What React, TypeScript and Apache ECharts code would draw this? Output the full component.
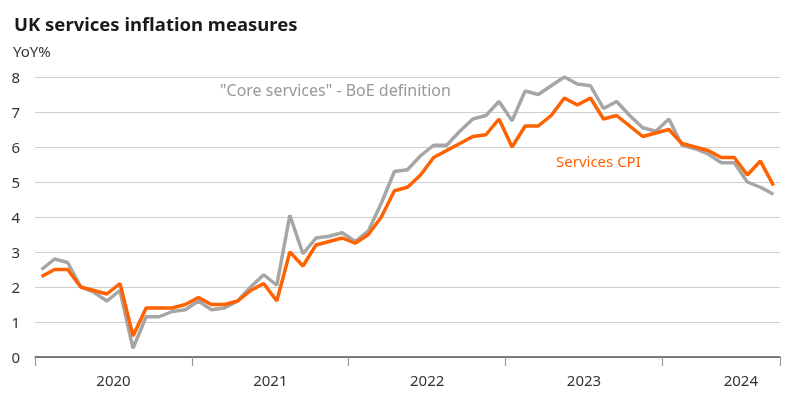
import React, { useEffect, useRef } from "react";
import * as echarts from "echarts";

const years = ["2020", "2021", "2022", "2023", "2024"];
const monthsInLastYear = 9;

const servicesCPI = [
  2.3, 2.5, 2.5, 2.0, 1.9, 1.8, 2.1, 0.6, 1.4, 1.4, 1.4, 1.5,
  1.7, 1.5, 1.5, 1.6, 1.9, 2.1, 1.6, 3.0, 2.6, 3.2, 3.3, 3.4,
  3.25, 3.5, 4.0, 4.75, 4.85, 5.2, 5.7, 5.9, 6.1, 6.3, 6.35, 6.8,
  6.0, 6.6, 6.6, 6.9, 7.4, 7.2, 7.4, 6.8, 6.9, 6.6, 6.3, 6.4,
  6.5, 6.1, 6.0, 5.9, 5.7, 5.7, 5.2, 5.6, 4.9,
];

const coreServices = [
  2.5, 2.8, 2.7, 2.0, 1.85, 1.6, 1.9, 0.25, 1.15, 1.15, 1.3, 1.35,
  1.6, 1.35, 1.4, 1.6, 2.0, 2.35, 2.05, 4.05, 2.95, 3.4, 3.45, 3.55,
  3.3, 3.6, 4.4, 5.3, 5.35, 5.75, 6.05, 6.05, 6.45, 6.8, 6.9, 7.3,
  6.75, 7.6, 7.5, 7.75, 8.0, 7.8, 7.75, 7.1, 7.3, 6.9, 6.55, 6.45,
  6.8, 6.05, 5.95, 5.8, 5.55, 5.55, 5.0, 4.85, 4.65,
];

const categories: string[] = [];
years.forEach((y, yi) => {
  const n = yi === years.length - 1 ? monthsInLastYear : 12;
  for (let m = 1; m <= n; m++) categories.push(`${y}-${String(m).padStart(2, "0")}`);
});

const ORANGE = "#FF6200";
const GREY = "#A6A6A6";
const FONT = "Noto Sans";

export default function App() {
  const ref = useRef<HTMLDivElement>(null);
  useEffect(() => {
    if (!ref.current) return;
    const chart = echarts.init(ref.current, undefined, { renderer: "svg" });
    chart.setOption({
      animation: false,
      textStyle: { fontFamily: FONT },
      title: {
        text: "UK services inflation measures",
        left: 9,
        top: 9,
        textStyle: { fontFamily: FONT, fontSize: 18.5, fontWeight: "bold", color: "#1a1a1a" },
      },
      graphic: [
        {
          type: "text",
          left: 13,
          top: 43,
          style: { text: "YoY%", fontFamily: FONT, fontSize: 15, fill: "#333" },
        },
        {
          type: "text",
          left: 220,
          top: 82,
          style: { text: '"Core services" - BoE definition', fontFamily: FONT, fontSize: 16, fill: "#999999" },
        },
        {
          type: "text",
          left: 556,
          top: 153,
          style: { text: "Services CPI", fontFamily: FONT, fontSize: 15, fill: ORANGE },
        },
      ],
      grid: { left: 35, right: 20, top: 77, bottom: 55, containLabel: false },
      xAxis: {
        type: "category",
        data: categories,
        boundaryGap: true,
        axisLine: { lineStyle: { color: "#555", width: 1.5 } },
        axisTick: {
          show: true,
          alignWithLabel: false,
          interval: (i: number) => i % 12 === 0,
          length: 9,
          lineStyle: { color: "#999", width: 1.2 },
        },
        axisLabel: {
          interval: (i: number) => i % 12 === 6,
          formatter: (v: string) => v.slice(0, 4),
          fontFamily: FONT,
          fontSize: 15,
          color: "#333",
          margin: 15,
          padding: [0, 13, 0, 0],
        },
        splitLine: { show: false },
      },
      yAxis: {
        type: "value",
        min: 0,
        max: 8,
        interval: 1,
        axisLine: { show: false },
        axisTick: { show: false },
        axisLabel: { fontFamily: FONT, fontSize: 15, color: "#333", margin: 15 },
        splitLine: { lineStyle: { color: "#cfcfcf", width: 1.2 } },
      },
      series: [
        {
          name: '"Core services" - BoE definition',
          type: "line",
          data: coreServices,
          symbol: "none",
          lineStyle: { color: GREY, width: 3.5 },
          z: 2,
        },
        {
          name: "Services CPI",
          type: "line",
          data: servicesCPI,
          symbol: "none",
          lineStyle: { color: ORANGE, width: 3.5 },
          z: 3,
        },
      ],
    });
    return () => chart.dispose();
  }, []);
  return (
    <div
      ref={ref}
      style={{ position: "fixed", left: 0, top: 0, width: 800, height: 412 }}
    />
  );
}
